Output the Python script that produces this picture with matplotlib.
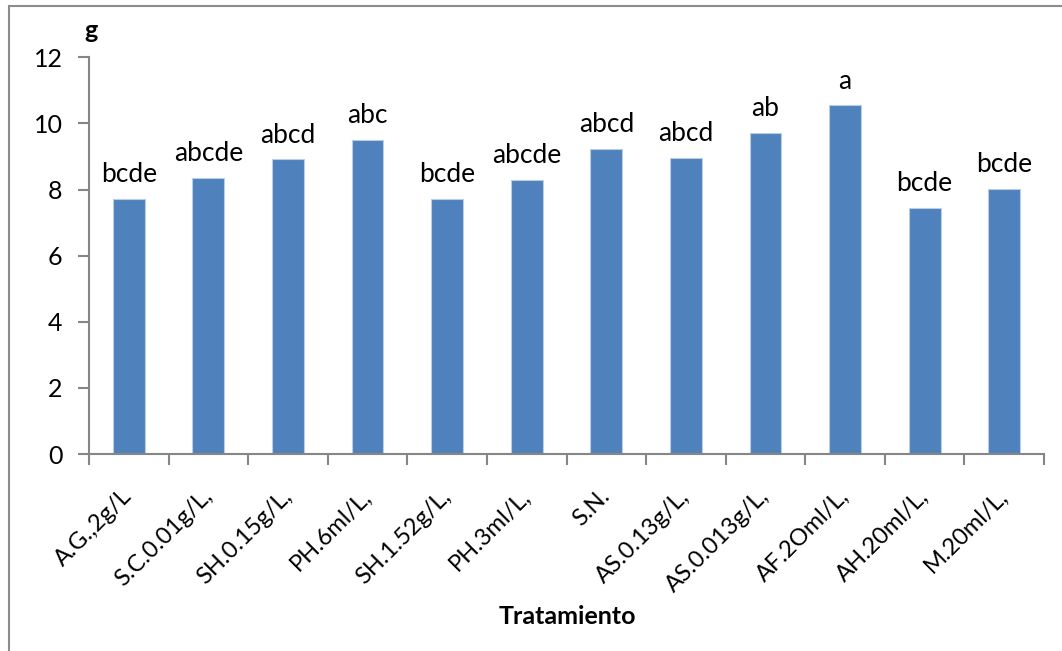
import matplotlib
matplotlib.use("Agg")
import matplotlib.pyplot as plt
from matplotlib.patches import Rectangle
from matplotlib.ticker import FixedLocator

plt.rcParams['font.family'] = ['Lato', 'DejaVu Sans']

# Treatments, mean weight (g) and significance letters
treatments = ["A.G.,2g/L", "S.C.0.01g/L,", "SH.0.15g/L,", "PH.6ml/L,", "SH.1.52g/L,",
              "PH.3ml/L,", "S.N.", "AS.0.13g/L,", "AS.0.013g/L,", "AF.2Oml/L,",
              "AH.20ml/L,", "M.20ml/L,"]
weights = [7.72, 8.36, 8.91, 9.51, 7.72, 8.30, 9.24, 8.96, 9.72, 10.55, 7.45, 8.03]
letters = ["bcde", "abcde", "abcd", "abc", "bcde", "abcde", "abcd", "abcd",
           "ab", "a", "bcde", "bcde"]
yticks = [0, 2, 4, 6, 8, 10, 12]

W, H = 1062, 651
fig = plt.figure(figsize=(W / 100, H / 100), dpi=100)

# chart-area frame
fig.patches.append(Rectangle((9 / W, -0.1), 1.2, 1 - 6 / H + 0.1,
                             transform=fig.transFigure, fill=False,
                             edgecolor="#8c8c8c", linewidth=1.5))

ax = fig.add_axes([89 / W, 1 - 454 / H, (1044 - 89) / W, (454 - 57.3) / H])

x = list(range(len(treatments)))
ax.bar(x, weights, width=0.4, color="#4F81BD", edgecolor="#B9CDE5", linewidth=0.8)

for xi, v, lab in zip(x, weights, letters):
    ax.annotate(lab, (xi, v), xytext=(0, 12), textcoords="offset points",
                ha="center", va="baseline", fontsize=19)

ax.set_xlim(-0.5, len(treatments) - 0.5)
ax.set_ylim(0, 12)
ax.set_yticks(yticks)
ax.set_yticklabels([str(t) for t in yticks], fontsize=18)

ax.set_xticks(x)
ax.set_xticklabels(treatments, rotation=45, ha="right", va="center",
                   rotation_mode="anchor", fontsize=17)
ax.xaxis.set_minor_locator(FixedLocator([i - 0.5 for i in range(len(treatments) + 1)]))
ax.tick_params(axis="x", which="major", length=0, pad=28)
ax.tick_params(axis="x", which="minor", length=8, width=1.5, color="#868686")
ax.tick_params(axis="y", length=8, width=1.5, color="#868686", pad=11)

for side in ("top", "right"):
    ax.spines[side].set_visible(False)
for side in ("left", "bottom"):
    ax.spines[side].set_color("#868686")
    ax.spines[side].set_linewidth(1.5)

fig.text(567 / W, 1 - 616 / H, "Tratamiento", ha="center", va="center",
         fontsize=18, fontweight="bold")
fig.text(91 / W, 1 - 31 / H, "g", ha="center", va="center",
         fontsize=18, fontweight="bold")

fig.savefig("out.png", dpi=100)
